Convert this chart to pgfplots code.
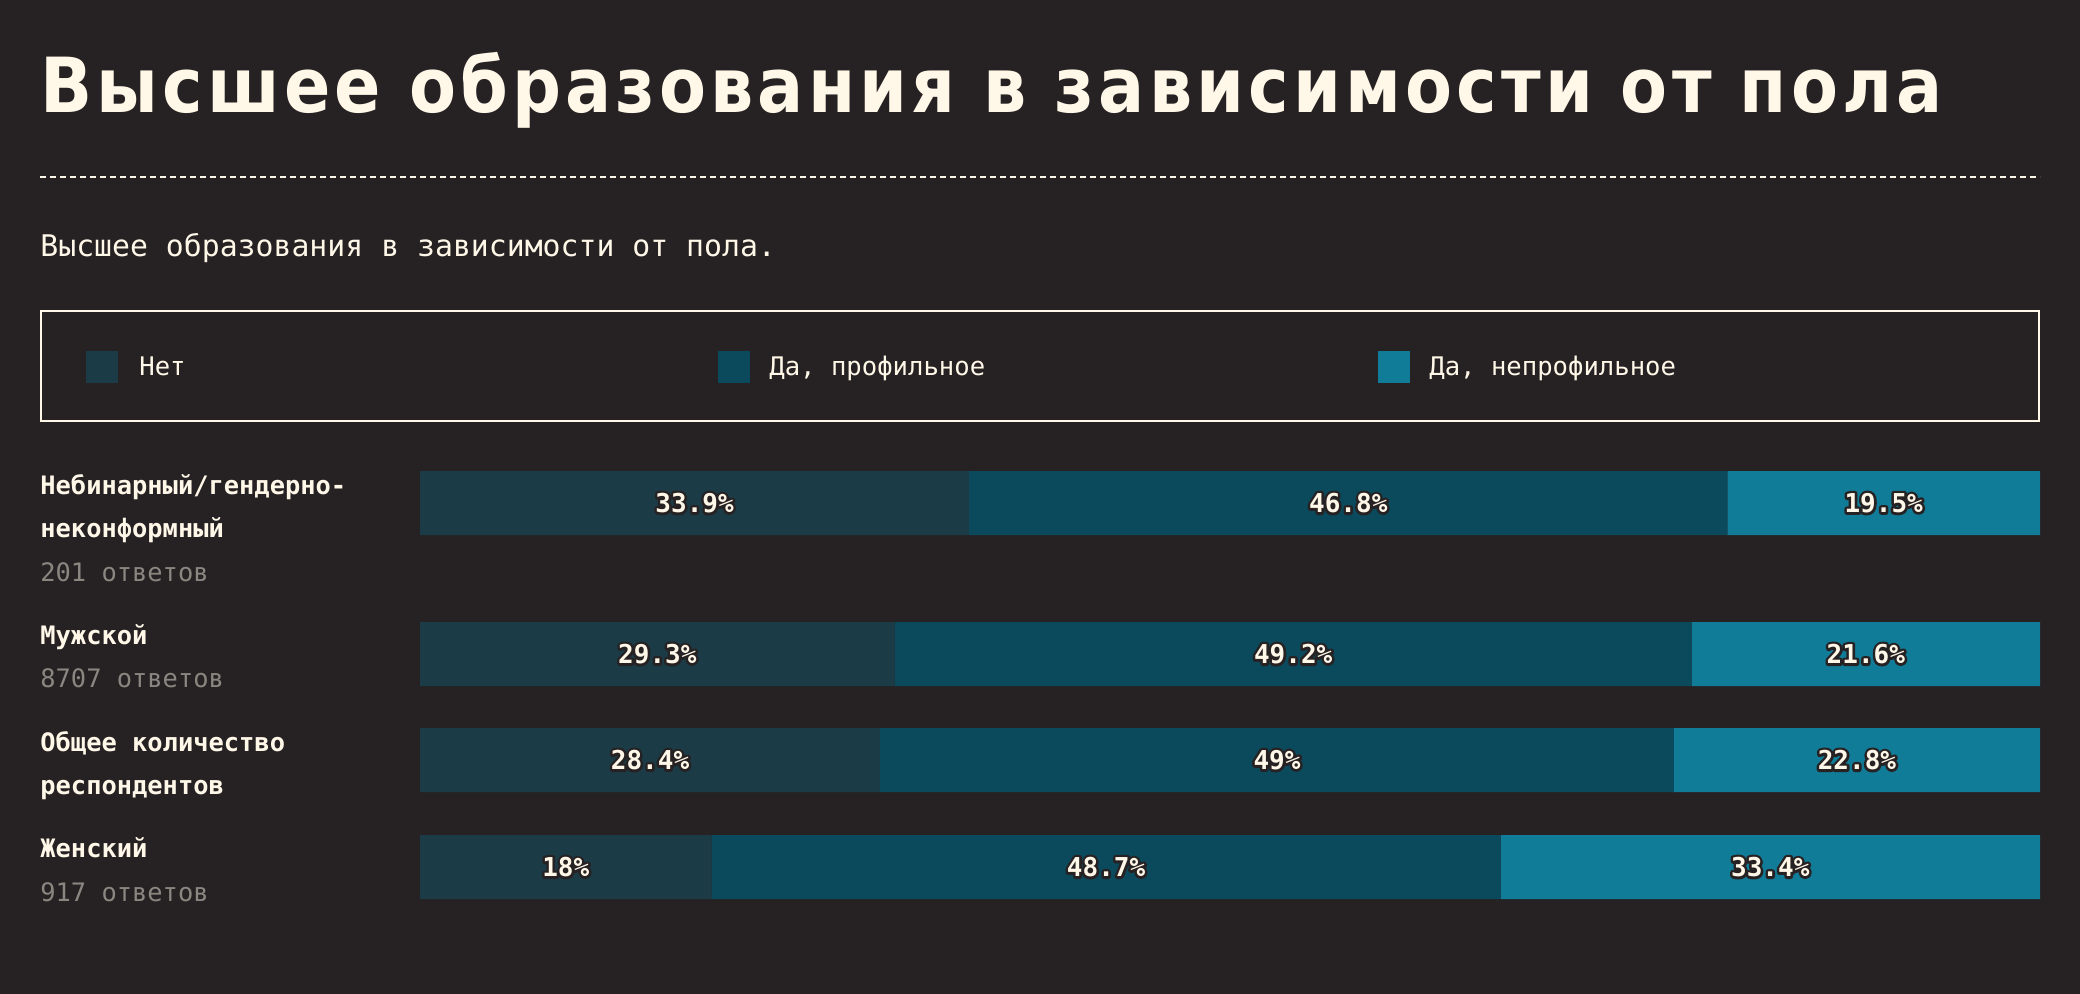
\documentclass[border=0pt]{standalone}
\usepackage{fontspec}
\usepackage{pgfplots}
\pgfplotsset{compat=1.18}
\setmainfont{DejaVu Sans Mono}
\newfontfamily\titlefont{DejaVu Sans Condensed}[LetterSpace=5.5]
\definecolor{bg}{HTML}{262223}
\definecolor{cream}{HTML}{FFF7E8}
\definecolor{cnet}{HTML}{1B3C47}
\definecolor{cprof}{HTML}{0A4A5C}
\definecolor{cnonprof}{HTML}{117C98}
\definecolor{graytxt}{HTML}{8C8681}
\newcommand\outl[1]{\leavevmode\rlap{\special{pdf:code q 1 Tr 2.6 w 1 j 1 J 0.149 0.133 0.137 RG}#1\special{pdf:code Q}}#1}
\begin{document}
\begin{tikzpicture}
\begin{scope}[x=0.5pt,y=-0.5pt]
\fill[bg] (0,0) rectangle (2080,994);
\node[anchor=base west, inner sep=0, text=cream, font=\titlefont\bfseries\fontsize{38}{40}\selectfont] at (40,113) {Высшее образования в зависимости от пола};
\draw[cream, line width=1pt, dash pattern=on 3pt off 2pt] (40,177) -- (2040,177);
\node[anchor=base west, inner sep=0, text=cream, font=\fontsize{14.9}{16}\selectfont] at (40,257) {Высшее образования в зависимости от пола.};
% legend
\draw[cream, line width=1pt] (41,311) rectangle (2039,421);
\fill[cnet] (86,351) rectangle (118,383);
\node[anchor=base west, inner sep=0, text=cream, font=\fontsize{12.8}{14}\selectfont] at (139,375) {Нет};
\fill[cprof] (718,351) rectangle (750,383);
\node[anchor=base west, inner sep=0, text=cream, font=\fontsize{12.8}{14}\selectfont] at (769,375) {Да, профильное};
\fill[cnonprof] (1378,351) rectangle (1410,383);
\node[anchor=base west, inner sep=0, text=cream, font=\fontsize{12.8}{14}\selectfont] at (1429,375) {Да, непрофильное};
% row labels
\tikzset{lab/.style={anchor=base west, inner sep=0, text=cream, font=\bfseries\fontsize{12.7}{14}\selectfont},
         cnt/.style={anchor=base west, inner sep=0, text=graytxt, font=\fontsize{12.7}{14}\selectfont}}
\node[lab] at (40,494) {Небинарный/гендерно-};
\node[lab] at (40,537) {неконформный};
\node[cnt] at (40,581) {201 ответов};
\node[lab] at (40,644) {Мужской};
\node[cnt] at (40,687) {8707 ответов};
\node[lab] at (40,751) {Общее количество};
\node[lab] at (40,794) {респондентов};
\node[lab] at (40,857) {Женский};
\node[cnt] at (40,901) {917 ответов};
\end{scope}
\begin{axis}[at={(210pt,-235.5pt)}, anchor=north west, scale only axis, width=810pt, height=214pt,
  xmin=0, xmax=100, ymin=471, ymax=899, y dir=reverse, hide axis,
  xbar stacked, bar width=32pt, clip=true]
\addplot[fill=cnet, draw=none] coordinates {(33.9,503) (29.3,654) (28.4,760) (18,867)};
\addplot[fill=cprof, draw=none] coordinates {(46.8,503) (49.2,654) (49,760) (48.7,867)};
\addplot[fill=cnonprof, draw=none] coordinates {(19.5,503) (21.6,654) (22.8,760) (33.4,867)};
\end{axis}
\begin{axis}[at={(210pt,-235.5pt)}, anchor=north west, scale only axis, width=810pt, height=214pt,
  xmin=0, xmax=100, ymin=471, ymax=899, y dir=reverse, hide axis, clip=false]
\addplot[draw=none, mark=none, point meta=explicit symbolic,
  nodes near coords={\outl{\pgfplotspointmeta\%}},
  every node near coord/.append style={anchor=center, text=cream, inner sep=0pt, font=\bfseries\fontsize{13}{14}\selectfont}]
  table[meta=m] {
x y m
16.95 503 33.9
57.3 503 46.8
90.35 503 19.5
14.65 654 29.3
53.9 654 49.2
89.25 654 21.6
14.2 760 28.4
52.9 760 49
88.7 760 22.8
9 867 18
42.35 867 48.7
83.35 867 33.4
};
\end{axis}
\end{tikzpicture}
\end{document}
